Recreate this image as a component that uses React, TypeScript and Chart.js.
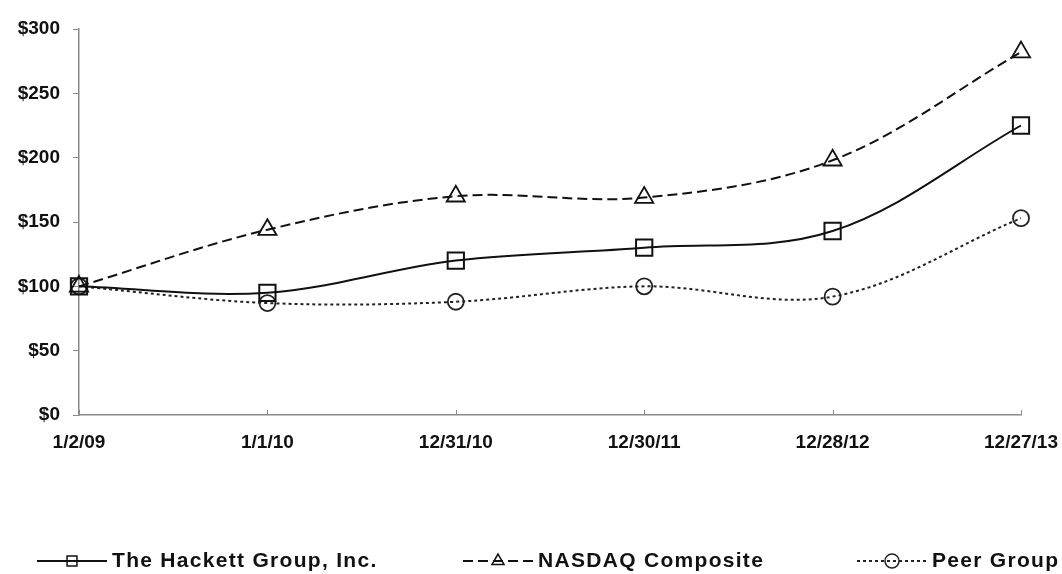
import React, { useEffect, useRef } from "react";
import { Chart, registerables } from "chart.js";

Chart.register(...registerables);

const categories = ["1/2/09", "1/1/10", "12/31/10", "12/30/11", "12/28/12", "12/27/13"];
const hackett = [100, 95, 120, 130, 143, 225];
const nasdaq = [100, 144, 170, 169, 198, 282];
const peer = [100, 87, 88, 100, 92, 153];
const seriesNames = ["The Hackett Group, Inc.", "NASDAQ Composite", "Peer Group"];
const yTicks = [0, 50, 100, 150, 200, 250, 300];

const FONT = "'Liberation Sans', Arial, sans-serif";
const legendStarts = [37, 463, 857];

function drawMarker(ctx: CanvasRenderingContext2D, style: string, x: number, y: number, r: number) {
  ctx.beginPath();
  if (style === "rect") {
    const s = r * Math.SQRT1_2;
    ctx.rect(x - s, y - s, 2 * s, 2 * s);
  } else if (style === "triangle") {
    const half = (r * Math.sqrt(3)) / 2;
    ctx.moveTo(x, y - r);
    ctx.lineTo(x + half, y + r / 2);
    ctx.lineTo(x - half, y + r / 2);
    ctx.closePath();
  } else {
    ctx.arc(x, y, r, 0, Math.PI * 2);
  }
  ctx.stroke();
}

const customPlugin = {
  id: "custom",
  afterDraw(chart: any) {
    const ctx: CanvasRenderingContext2D = chart.ctx;
    const xs = chart.scales.x;
    const area = chart.chartArea;
    ctx.save();
    ctx.strokeStyle = "#8a8a8a";
    ctx.lineWidth = 1;
    ctx.setLineDash([]);
    categories.forEach((_, i) => {
      const px = Math.round(xs.getPixelForValue(i)) + 0.5;
      ctx.beginPath();
      ctx.moveTo(px, area.bottom);
      ctx.lineTo(px, area.bottom - 5);
      ctx.stroke();
    });
    const y = 561;
    chart.data.datasets.forEach((ds: any, i: number) => {
      const x0 = legendStarts[i];
      ctx.strokeStyle = ds.borderColor;
      ctx.lineWidth = ds.borderWidth;
      ctx.setLineDash(ds.borderDash || []);
      ctx.beginPath();
      ctx.moveTo(x0, y);
      ctx.lineTo(x0 + 70, y);
      ctx.stroke();
      ctx.setLineDash([]);
      ctx.lineWidth = 1.5;
      drawMarker(ctx, ds.pointStyle, x0 + 35, y, 7);
      ctx.fillStyle = "#111";
      ctx.font = `bold 21px ${FONT}`;
      (ctx as any).letterSpacing = "1.3px";
      ctx.textAlign = "left";
      ctx.textBaseline = "middle";
      ctx.fillText(seriesNames[i], x0 + 75, y);
    });
    ctx.restore();
  },
};

export default function App() {
  const ref = useRef<HTMLCanvasElement>(null);
  useEffect(() => {
    if (!ref.current) return;
    const chart = new Chart(ref.current, {
      type: "line",
      data: {
        labels: categories,
        datasets: [
          {
            label: seriesNames[0],
            data: hackett,
            borderColor: "#111",
            borderWidth: 2,
            pointStyle: "rect",
            pointRadius: 11.5,
            pointBorderWidth: 2,
            pointBackgroundColor: "rgba(0,0,0,0)",
            pointBorderColor: "#111",
            tension: 0.35,
          },
          {
            label: seriesNames[1],
            data: nasdaq,
            borderColor: "#111",
            borderWidth: 2,
            borderDash: [10, 5],
            pointStyle: "triangle",
            pointRadius: 10.5,
            pointBorderWidth: 1.8,
            pointBackgroundColor: "rgba(0,0,0,0)",
            pointBorderColor: "#111",
            tension: 0.35,
          },
          {
            label: seriesNames[2],
            data: peer,
            borderColor: "#222",
            borderWidth: 2,
            borderDash: [3, 3],
            pointStyle: "circle",
            pointRadius: 8,
            pointBorderWidth: 1.8,
            pointBackgroundColor: "rgba(0,0,0,0)",
            pointBorderColor: "#222",
            tension: 0.35,
          },
        ],
      },
      options: {
        animation: false,
        responsive: false,
        maintainAspectRatio: false,
        layout: { padding: { top: 29, right: 0, left: 0, bottom: 0 } },
        plugins: { legend: { display: false }, tooltip: { enabled: false } },
        clip: false as any,
        scales: {
          x: {
            offset: false,
            grid: { drawOnChartArea: false, drawTicks: false },
            border: { color: "#8a8a8a", width: 1.5 },
            ticks: {
              color: "#111",
              font: { family: FONT, size: 19, weight: "bold" },
              padding: 16,
              maxRotation: 0,
              autoSkip: false,
            },
            afterFit: (s: any) => {
              s.height = 159;
              s.paddingRight = 41;
              s.paddingLeft = 0;
            },
          },
          y: {
            min: 0,
            max: 300,
            afterBuildTicks: (s: any) => {
              s.ticks = yTicks.map((v) => ({ value: v }));
            },
            grid: { drawOnChartArea: false, drawTicks: true, tickLength: 6, color: "#8a8a8a" },
            border: { color: "#8a8a8a", width: 1.5 },
            ticks: {
              color: "#111",
              font: { family: FONT, size: 19, weight: "bold" },
              padding: 13,
              callback: (v: any) => "$" + v,
            },
            afterFit: (s: any) => {
              s.width = 79;
            },
          },
        },
      },
      plugins: [customPlugin],
    });
    return () => chart.destroy();
  }, []);
  return (
    <div style={{ position: "absolute", left: 0, top: 0, width: 1062, height: 574, background: "#fff" }}>
      <canvas ref={ref} width={1062} height={574} />
    </div>
  );
}
